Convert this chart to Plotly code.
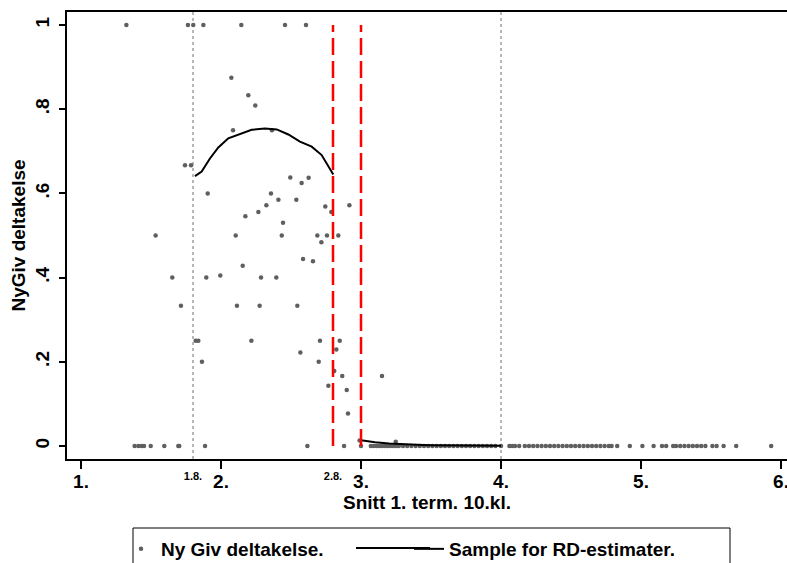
import plotly.graph_objects as go

# ---- data ----
pts_x = [1.324, 1.764, 1.802, 1.874, 2.145, 2.457, 2.607,
         2.074, 2.195, 2.245, 2.086, 2.364,
         1.743, 1.786, 2.495, 2.576, 2.626,
         1.905, 2.357, 2.41, 2.538,
         2.324, 2.267, 2.174, 2.443, 2.745, 2.788, 2.917,
         1.533, 2.105, 2.434, 2.688, 2.757, 2.838,
         2.717, 2.586, 2.657, 2.155,
         1.652, 1.895, 2.286, 2.395, 1.995,
         1.714, 2.114, 2.276, 2.545,
         1.819, 1.838, 2.217, 2.707, 2.848,
         2.567, 2.824, 1.864, 2.698, 2.809, 2.866, 3.15, 2.767, 2.898, 2.907,
         2.99, 3.248]
pts_y = [1, 1, 1, 1, 1, 1, 1,
         0.875, 0.833, 0.809, 0.75, 0.75,
         0.667, 0.667, 0.638, 0.625, 0.637,
         0.6, 0.6, 0.585, 0.585,
         0.572, 0.556, 0.546, 0.53, 0.569, 0.556, 0.572,
         0.5, 0.5, 0.5, 0.5, 0.5, 0.5,
         0.484, 0.444, 0.439, 0.428,
         0.4, 0.4, 0.4, 0.4, 0.405,
         0.333, 0.333, 0.333, 0.333,
         0.25, 0.25, 0.25, 0.25, 0.25,
         0.222, 0.229, 0.2, 0.2, 0.178, 0.166, 0.166, 0.143, 0.133, 0.077,
         0.013, 0.010]

zero_x = [1.383, 1.41, 1.433, 1.45, 1.498, 1.595, 1.695, 1.702, 1.886, 2.617, 2.879,
          3.0, 3.07, 3.09, 3.11, 3.13, 3.15, 3.17, 3.19, 3.21, 3.23, 3.25, 3.27, 3.3,
          3.33, 3.36, 3.39, 3.42, 3.45, 3.48, 3.51, 3.54, 3.57, 3.6, 3.63, 3.66, 3.69,
          3.72, 3.75, 3.78, 3.81, 3.84, 3.87, 3.9, 3.93, 3.96, 4.0,
          4.06, 4.08, 4.1, 4.13, 4.17, 4.2, 4.23, 4.26, 4.29, 4.32, 4.35, 4.38, 4.41,
          4.44, 4.47, 4.5, 4.53, 4.56, 4.59, 4.62, 4.65, 4.68, 4.71, 4.74, 4.77, 4.79,
          4.83, 4.92, 5.01, 5.09, 5.15, 5.18, 5.23, 5.25, 5.28, 5.31, 5.34, 5.37,
          5.4, 5.43, 5.46, 5.51, 5.54, 5.59, 5.68, 5.93]
zero_y = [0] * len(zero_x)

fit_left_x = [1.814, 1.862, 1.921, 1.981, 2.052, 2.124, 2.219, 2.314, 2.398, 2.481, 2.564, 2.648, 2.719, 2.802]
fit_left_y = [0.641, 0.652, 0.683, 0.709, 0.731, 0.740, 0.751, 0.754, 0.752, 0.740, 0.723, 0.711, 0.691, 0.645]
fit_right_x = [3.0, 3.05, 3.1, 3.2, 3.3, 3.4, 3.5, 3.6, 3.7, 3.8, 3.9, 4.0]
fit_right_y = [0.0135, 0.011, 0.009, 0.006, 0.004, 0.003, 0.002, 0.0015, 0.001, 0.0008, 0.0005, 0.0003]

grey_lines = [1.8, 4.0]
red_lines = [2.8, 3.0]

x_ticks = [1, 2, 3, 4, 5, 6]
x_ticktext = ["1.", "2.", "3.", "4.", "5.", "6."]
x_extra_ticks = [1.8, 2.8]
x_extra_text = ["1.8.", "2.8."]
y_ticks = [0, 0.2, 0.4, 0.6, 0.8, 1]
y_ticktext = ["0", ".2", ".4", ".6", ".8", "1"]

FONT = "Liberation Sans, Arial, sans-serif"
DOT = "#5f5f5f"
L, R, T, B = 67, 0, 12, 104
PW, PH = 787 - L - R, 563 - T - B


def px_x(p):
    return (p - L) / PW


def px_y(p):
    return (563 - B - p) / PH


fig = go.Figure()
fig.add_trace(go.Scatter(x=pts_x + zero_x, y=pts_y + zero_y, mode="markers",
                         marker=dict(color=DOT, size=4.5),
                         name="Ny Giv deltakelse.", legend="legend"))
fig.add_trace(go.Scatter(x=fit_left_x, y=fit_left_y, mode="lines",
                         line=dict(color="black", width=2),
                         name="Sample for RD-estimater.", legend="legend2",
                         legendgroup="rd"))
fig.add_trace(go.Scatter(x=fit_right_x, y=fit_right_y, mode="lines",
                         line=dict(color="black", width=2),
                         name="Sample for RD-estimater.", legend="legend2",
                         legendgroup="rd", showlegend=False))
# invisible trace to carry the extra (small) tick labels on an overlaid axis
fig.add_trace(go.Scatter(x=x_extra_ticks, y=[None, None], xaxis="x2", showlegend=False,
                         hoverinfo="skip"))

shapes = []
for gx in grey_lines:
    shapes.append(dict(type="line", xref="x", yref="paper", x0=gx, x1=gx, y0=0, y1=1,
                       line=dict(color="#a0a0a0", width=1.5, dash="dot"), layer="below"))
for rx in red_lines:
    shapes.append(dict(type="line", xref="x", yref="y", x0=rx, x1=rx, y0=0, y1=1,
                       line=dict(color="#ff0000", width=2.5, dash="17px,6px")))
# legend frame and long legend line sample
shapes.append(dict(type="rect", xref="paper", yref="paper",
                   x0=px_x(133), x1=px_x(730), y0=px_y(580), y1=px_y(528),
                   line=dict(color="black", width=1), fillcolor="rgba(0,0,0,0)"))
shapes.append(dict(type="line", xref="paper", yref="paper",
                   x0=px_x(356), x1=px_x(430), y0=px_y(548), y1=px_y(548),
                   line=dict(color="black", width=2)))

xr = [0.9, 0.9 + PW / 140]
yr = [-13 / 421, 1 + 13 / 421]

bold = dict(family=FONT, size=19, color="black", weight="bold")

fig.update_layout(
    width=787, height=563,
    margin=dict(l=L, r=R, t=T, b=B, autoexpand=False),
    plot_bgcolor="white", paper_bgcolor="white",
    font=bold,
    shapes=shapes,
    xaxis=dict(range=xr, tickvals=x_ticks, ticktext=x_ticktext, ticks="outside",
               ticklen=8, tickwidth=1.5, tickcolor="black", showline=True, linecolor="black",
               linewidth=2, mirror=True, showgrid=False, zeroline=False, automargin=False,
               ticklabelstandoff=-4, ticklabeloverflow="allow",
               title=dict(text="Snitt 1. term. 10.kl.", standoff=2, font=bold),
               tickfont=bold),
    xaxis2=dict(range=xr, overlaying="x", anchor="y", side="bottom", tickvals=x_extra_ticks,
                ticktext=x_extra_text, ticks="outside", ticklen=7, tickcolor="rgba(0,0,0,0)",
                showline=False, showgrid=False, zeroline=False, automargin=False,
                tickfont=dict(family=FONT, size=11, color="black", weight="bold")),
    yaxis=dict(range=yr, tickvals=y_ticks, ticktext=y_ticktext, ticks="outside",
               ticklen=6, tickwidth=1.5, tickcolor="black", showline=True, linecolor="black",
               linewidth=2, showgrid=False, zeroline=False, tickangle=-90, automargin=False,
               ticklabelstandoff=2,
               title=dict(text="NyGiv deltakelse", standoff=2, font=bold),
               tickfont=bold),
    legend=dict(orientation="h", x=px_x(121), y=px_y(530),
                xanchor="left", yanchor="top", bgcolor="rgba(0,0,0,0)",
                font=bold, itemwidth=30),
    legend2=dict(orientation="h", x=px_x(409), y=px_y(530),
                 xanchor="left", yanchor="top", bgcolor="rgba(0,0,0,0)",
                 font=bold, itemwidth=30),
)

fig.write_html("out.html", config={"displayModeBar": False},
               post_script="document.body.style.margin='0';document.body.style.overflow='hidden';")
